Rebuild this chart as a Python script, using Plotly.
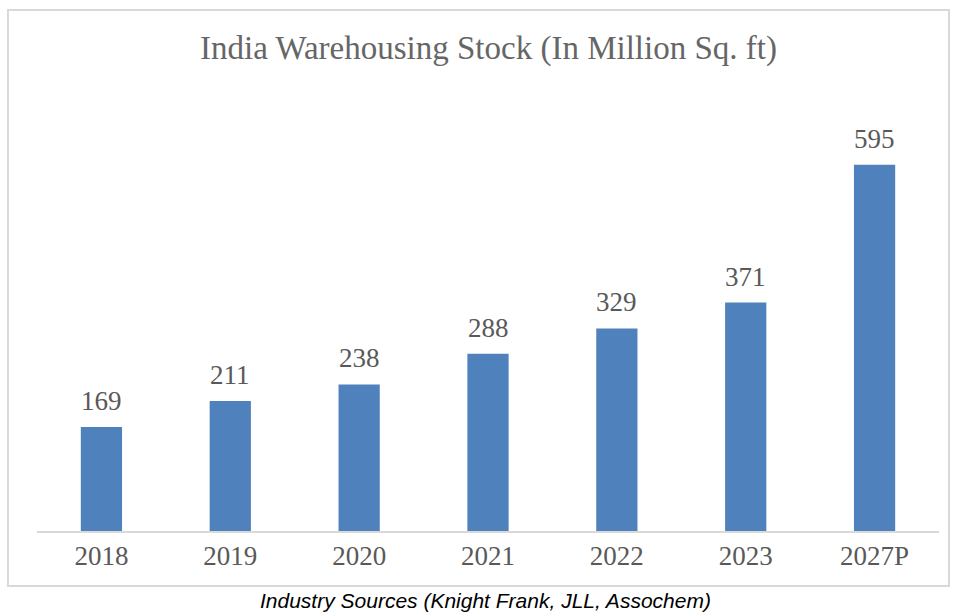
import plotly.graph_objects as go

years = ["2018", "2019", "2020", "2021", "2022", "2023", "2027P"]
stock = [169, 211, 238, 288, 329, 371, 595]

title_text = "India Warehousing Stock (In Million Sq. ft)"
caption_text = "Industry Sources (Knight Frank, JLL, Assochem)"

serif = "Liberation Serif, Times New Roman, serif"

fig = go.Figure()
fig.add_trace(go.Bar(
    x=years, y=stock,
    marker=dict(color="#4f81bd", line=dict(width=0)),
    hoverinfo="x+y",
))

for i, v in enumerate(stock):
    fig.add_annotation(
        x=i, y=v, text=str(v), showarrow=False,
        yanchor="bottom", yshift=9,
        font=dict(family=serif, size=27, color="#595959"),
    )

# chart border
fig.add_shape(type="rect", xref="paper", yref="paper",
              x0=-0.0322, x1=1.0111, y0=-0.1276, y1=1.2088,
              line=dict(color="#d9d9d9", width=2), fillcolor="rgba(0,0,0,0)",
              layer="below")

fig.add_annotation(
    xref="paper", yref="paper", x=0.5, y=1.2088, yshift=-38,
    text=title_text, showarrow=False, yanchor="middle",
    font=dict(family=serif, size=33, color="#666666"),
)

fig.add_annotation(
    xref="paper", yref="paper", x=0.4967, y=-0.1276, yshift=-15,
    text="<i>" + caption_text + "</i>", showarrow=False, yanchor="middle",
    font=dict(family="Liberation Sans, Arial, sans-serif", size=21, color="#000000"),
)

fig.update_layout(
    width=953, height=614,
    margin=dict(l=37, r=14, t=100, b=83, autoexpand=False),
    paper_bgcolor="white", plot_bgcolor="white",
    bargap=0.68,
    showlegend=False,
    xaxis=dict(
        type="category", range=[-0.5, len(years) - 0.5],
        showline=True, linecolor="#d9d9d9", linewidth=1.5,
        ticks="", showgrid=False,
        tickfont=dict(family=serif, size=27, color="#595959"),
    ),
    yaxis=dict(
        range=[0, 700], visible=False, showgrid=False, zeroline=False,
    ),
)

fig.write_html("out.html", config={"displayModeBar": False},
               post_script="document.body.style.margin='0';")
